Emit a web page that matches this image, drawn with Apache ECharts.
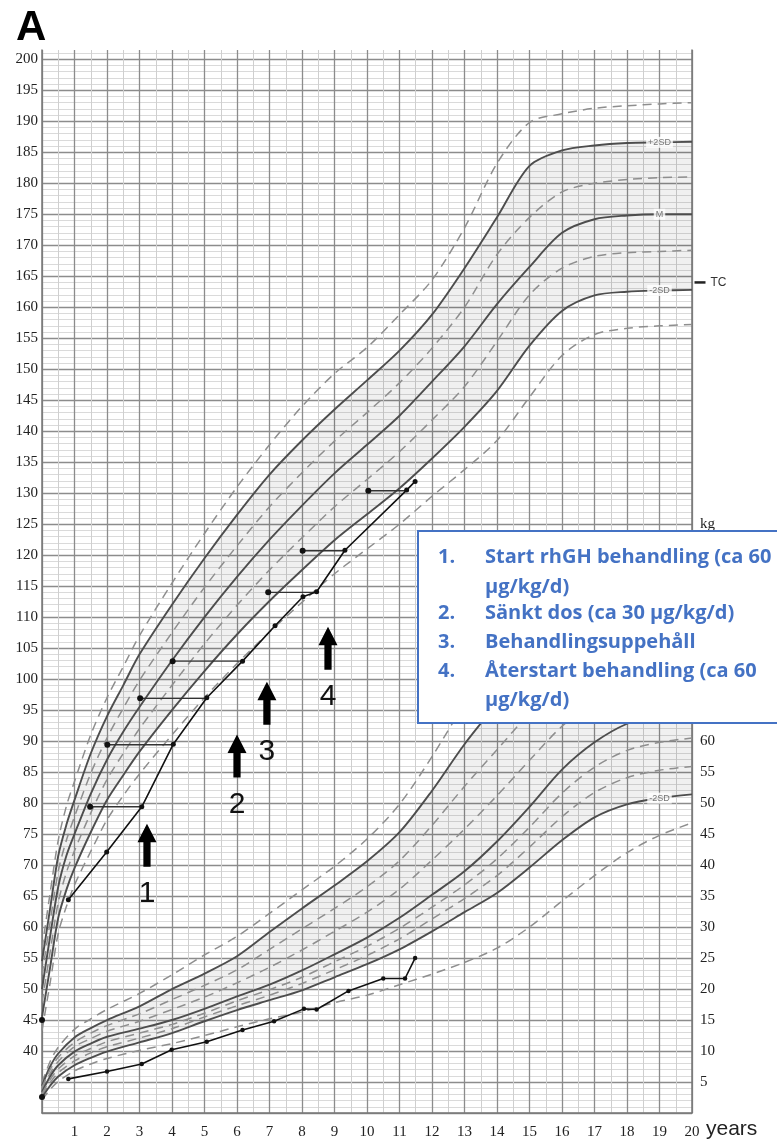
<!DOCTYPE html>
<html><head><meta charset="utf-8">
<script src="https://cdn.jsdelivr.net/npm/echarts@6/dist/echarts.min.js"></script>
<style>html,body{margin:0;padding:0;background:#fff}#c{width:777px;height:1145px}</style>
</head><body><div id="c"></div>
<script>
// ---------- Height reference curves (cm) ----------
const ageH = [0, 0.25, 0.5, 0.75, 1, 1.5, 2, 2.5, 3, 4, 5, 6, 7, 8, 9, 10, 11, 12, 13, 14, 15, 16, 17, 18, 19, 20];
const hP3 = [56.5, 65.5, 74, 79.5, 83.5, 91, 97, 102, 107, 115.5, 123.5, 131, 137.8, 144, 149.3, 153.5, 158.8, 164.4, 172.8, 183.2, 189.8, 191.2, 192.1, 192.5, 192.8, 193];
const hP2 = [54.5, 63, 71.5, 76.5, 80.5, 88, 94, 99, 104, 112, 119.5, 126.5, 133, 138.5, 143.5, 148.2, 153, 158.8, 166.3, 174.5, 182.8, 185.3, 186.1, 186.5, 186.6, 186.7];
const hP1 = [52.3, 60.8, 69, 74, 77.8, 84.8, 90.5, 95.3, 99.8, 107.5, 114.8, 121.5, 127.8, 133.3, 138.4, 143, 147.8, 153.4, 160, 168.5, 174.5, 178.6, 180, 180.6, 180.9, 181];
const hM  = [50, 58.5, 66.5, 71.5, 75, 81.5, 87, 91.5, 95.5, 103, 110, 116.5, 122.5, 128, 133.2, 137.8, 142.5, 148, 153.7, 160.5, 166.5, 172, 174.2, 174.8, 175, 175];
const hM1 = [47.8, 56, 64, 68.8, 72.3, 78.4, 83.8, 88, 92, 99, 105.7, 111.9, 117.6, 122.8, 127.8, 132.2, 136.7, 141.8, 147.2, 154.5, 162, 166.3, 168.2, 168.8, 169, 169.2];
const hM2 = [45.5, 53.5, 61.5, 66, 69.5, 75.3, 80.5, 84.5, 88.3, 95, 101.3, 107.2, 112.6, 117.6, 122.4, 126.6, 130.8, 135.6, 140.7, 146.5, 153.8, 159.4, 161.9, 162.5, 162.7, 162.8];
const hM3 = [43.3, 51, 59, 63.3, 66.8, 72.2, 77.3, 81.2, 84.7, 91, 97, 102.5, 107.6, 112.4, 117, 121, 125, 129.5, 133.8, 138.5, 145.5, 152.2, 155.6, 156.6, 157, 157.2];

// ---------- Weight reference curves (kg) ----------
const ageW = [0, 0.25, 0.5, 1, 1.5, 2, 3, 4, 5, 6, 7, 8, 9, 10, 11, 12, 13, 14, 15, 16, 17, 18, 19, 20];
const wP3 = [4.9, 8.3, 10.6, 13.5, 15.2, 16.7, 19.3, 22.3, 25.5, 28.5, 32.2, 36.0, 39.8, 44.2, 49.8, 57.5, 66, 74, 80, 85, 88, 90, 91, 92];
const wP2 = [4.4, 7.5, 9.6, 12.2, 13.7, 15.0, 17.2, 20.0, 22.5, 25.3, 29.2, 33.0, 36.7, 40.6, 45.3, 52.0, 59.5, 66.0, 72.0, 76.5, 79.5, 81.5, 82.5, 83.0];
const wU2 = [4.1, 7.0, 9.0, 11.4, 12.9, 14.1, 16.0, 18.3, 20.6, 23.1, 26.4, 29.7, 33.0, 36.5, 40.7, 46.4, 52.7, 58.6, 64.5, 69.5, 72.9, 75.3, 76.4, 77.0];
const wU1 = [3.7, 6.4, 8.3, 10.7, 12.0, 13.2, 14.8, 16.7, 18.7, 21.0, 23.5, 26.3, 29.3, 32.4, 36.1, 40.8, 45.8, 51.2, 56.9, 62.4, 66.4, 69.0, 70.4, 71.0];
const wM  = [3.4, 5.9, 7.7, 9.9, 11.2, 12.3, 13.6, 15.0, 16.8, 18.8, 20.7, 23.0, 25.6, 28.3, 31.5, 35.2, 39.0, 43.8, 49.4, 55.4, 59.8, 62.8, 64.3, 65.0];
const wL1 = [3.1, 5.4, 7.1, 9.2, 10.4, 11.5, 12.9, 14.3, 16.1, 18.1, 19.9, 21.9, 24.4, 26.9, 29.8, 33.2, 36.8, 41.0, 46.1, 51.6, 55.8, 58.5, 59.8, 60.5];
const wL2 = [2.8, 4.9, 6.5, 8.4, 9.7, 10.7, 12.1, 13.6, 15.5, 17.3, 19.0, 20.9, 23.1, 25.4, 28.1, 31.3, 34.6, 38.3, 42.9, 47.8, 51.7, 54.1, 55.3, 55.9];
const wM2 = [2.5, 4.4, 5.9, 7.7, 8.9, 9.9, 11.4, 12.9, 14.8, 16.6, 18.2, 19.8, 21.9, 24.0, 26.4, 29.3, 32.4, 35.5, 39.6, 44.0, 47.7, 49.8, 50.8, 51.4];
const wM3 = [2.1, 3.8, 5.1, 6.8, 7.9, 8.8, 10.1, 11.2, 12.5, 13.9, 15.2, 16.3, 17.8, 19.0, 20.7, 22.4, 24.3, 26.6, 30.0, 34.2, 38.3, 42.0, 44.8, 46.8];

// ---------- Patient ----------
const birthLength = 45;
const birthWeight = 2.6;
const patHAges = [0.81, 1.99, 3.07, 4.04, 5.07, 6.17, 7.17, 8.03, 8.45, 9.32, 11.22, 11.48];
const patH     = [64.4, 72.1, 79.4, 89.5, 97.0, 102.9, 108.6, 113.3, 114.1, 120.8, 130.5, 131.9];
const patWAges = [0.81, 2.0, 3.07, 3.99, 5.07, 6.17, 7.14, 8.06, 8.45, 9.43, 10.5, 11.17, 11.48];
const patW     = [5.5, 6.7, 7.9, 10.2, 11.5, 13.4, 14.8, 16.8, 16.7, 19.7, 21.7, 21.7, 25.0];
// bone age (left dot) vs chronological age at same height
const boneAges  = [1.48, 2.01, 3.02, 4.02, 6.96, 8.02, 10.04];
const chronAges = [3.07, 4.04, 5.07, 6.17, 8.45, 9.32, 11.22];
const boneH     = [79.4, 89.4, 96.9, 102.9, 114.0, 120.7, 130.4];
const targetHeight = 164;

// ---------- Annotations ----------
const arrowAges = [3.23, 6.0, 6.92, 8.8];
const arrowCm   = [73.2, 87.6, 96.1, 105.0];
const arrowTexts = ['1', '2', '3', '4'];
const xTicks = [1,2,3,4,5,6,7,8,9,10,11,12,13,14,15,16,17,18,19,20];
const legendLines = [
  ['1.', 'Start rhGH behandling (ca 60'],
  ['', 'µg/kg/d)'],
  ['2.', 'Sänkt dos (ca 30 µg/kg/d)'],
  ['3.', 'Behandlingsuppehåll'],
  ['4.', 'Återstart behandling (ca 60'],
  ['', 'µg/kg/d)']
];

// ---------- build ----------
const pairs = (xs, ys) => xs.map((x, i) => [x, ys[i]]);
const SM = 0.3;
const solidStyle = {color: '#4d4d4d', width: 1.9};
const dashStyle = {color: '#8e8e8e', width: 1.5, type: [9, 6]};
function refLine(xs, ys, dashed, yi) {
  return {type: 'line', yAxisIndex: yi, data: pairs(xs, ys), smooth: SM,
    symbol: 'none', silent: true, lineStyle: dashed ? dashStyle : solidStyle, z: 3};
}
// shaded band between two curves: value dimension first so that stacking applies to y
function band(xs, lo, hi, yi, st) {
  const common = {type: 'line', yAxisIndex: yi, stack: st, smooth: SM, symbol: 'none', silent: true,
    dimensions: ['v', 'age'], encode: {x: 'age', y: 'v'}, lineStyle: {opacity: 0}, z: 1};
  return [
    Object.assign({}, common, {data: lo.map((v, i) => [v, xs[i]])}),
    Object.assign({}, common, {data: hi.map((v, i) => [+(v - lo[i]).toFixed(2), xs[i]]),
      areaStyle: {color: 'rgba(0,0,0,0.085)'}})
  ];
}

const series = [];
series.push(...band(ageH, hM2, hP2, 0, 'hb'));
series.push(...band(ageW, wM2, wP2, 1, 'wb'));
[[hP3, 1], [hP2, 0], [hP1, 1], [hM, 0], [hM1, 1], [hM2, 0], [hM3, 1]].forEach(([d, dash]) => series.push(refLine(ageH, d, dash, 0)));
[[wP3, 1], [wP2, 0], [wU2, 1], [wU1, 1], [wM, 0], [wL1, 1], [wL2, 1], [wM2, 0], [wM3, 1]].forEach(([d, dash]) => series.push(refLine(ageW, d, dash, 1)));

// curve end labels
const lblStyle = {show: true, position: 'inside', formatter: p => p.name, backgroundColor: '#fff',
  padding: [1, 2], fontSize: 9, color: '#555', fontFamily: 'Liberation Sans'};
series.push({type: 'scatter', yAxisIndex: 0, symbolSize: 1, itemStyle: {color: 'transparent'}, silent: true, z: 6,
  label: lblStyle, data: [
    {name: '+2SD', value: [ageH[24], hP2[24]]},
    {name: 'M', value: [ageH[24], hM[24]]},
    {name: '-2SD', value: [ageH[24], hM2[24]]}
  ]});
series.push({type: 'scatter', yAxisIndex: 1, symbolSize: 1, itemStyle: {color: 'transparent'}, silent: true, z: 6,
  label: lblStyle, data: [{name: '-2SD', value: [ageW[22], wM2[22]]}]});

// target height marker
series.push({type: 'scatter', yAxisIndex: 0, clip: false, symbol: 'rect', symbolSize: [11, 2.5], symbolOffset: [8, 0],
  itemStyle: {color: '#222', opacity: 1}, silent: true, z: 6, data: [[20, targetHeight]],
  label: {show: true, formatter: 'TC', position: 'right', distance: 5, fontSize: 12, color: '#333', fontFamily: 'Liberation Sans'}});

// patient height
series.push({type: 'line', yAxisIndex: 0, data: pairs(patHAges, patH), symbol: 'circle', symbolSize: 5,
  itemStyle: {color: '#111'}, lineStyle: {color: '#111', width: 1.6}, z: 8, silent: true});
boneAges.forEach((b, i) => {
  series.push({type: 'line', yAxisIndex: 0, data: [[b, boneH[i]], [chronAges[i], boneH[i]]], symbol: 'circle',
    symbolSize: (v, p) => p.dataIndex === 0 ? 6 : 0, itemStyle: {color: '#111'},
    lineStyle: {color: '#333', width: 1.4}, z: 7, silent: true});
});
// patient weight
series.push({type: 'line', yAxisIndex: 1, data: pairs(patWAges, patW), symbol: 'circle', symbolSize: 4.5,
  itemStyle: {color: '#111'}, lineStyle: {color: '#111', width: 1.6}, z: 8, silent: true});
// birth points
series.push({type: 'scatter', yAxisIndex: 0, clip: false, data: [[0, birthLength]], symbolSize: 6, itemStyle: {color: '#111', opacity: 1}, z: 8, silent: true});
series.push({type: 'scatter', yAxisIndex: 1, clip: false, data: [[0, birthWeight]], symbolSize: 6, itemStyle: {color: '#111', opacity: 1}, z: 8, silent: true});

// arrows
series.push({type: 'scatter', yAxisIndex: 0, silent: true, z: 9,
  symbol: 'path://M10,0 L20,19 L13.8,19 L13.8,44 L6.2,44 L6.2,19 L0,19 Z', symbolSize: [19, 43],
  itemStyle: {color: '#000', opacity: 1},
  label: {show: true, position: 'bottom', distance: 12, formatter: p => p.name, fontSize: 30,
    color: '#111', fontFamily: 'Liberation Sans'},
  data: arrowAges.map((a, i) => ({name: arrowTexts[i], value: [a, arrowCm[i]]}))});

// legend box (own layer, above axes and series)
const boxChildren = [{type: 'rect', zlevel: 2, z: 100, shape: {x: 0, y: 0, width: 380, height: 192},
  style: {fill: '#fff', stroke: '#4472C4', lineWidth: 2}}];
const LF = 'bold 20px "Open Sans", "Noto Sans", sans-serif';
legendLines.forEach((l, i) => {
  const yy = [26, 56, 82, 111, 140, 169][i];
  if (l[0]) boxChildren.push({type: 'text', zlevel: 2, z: 101, x: 20, y: yy, style: {text: l[0], font: LF, fill: '#4472C4', verticalAlign: 'middle'}});
  boxChildren.push({type: 'text', zlevel: 2, z: 101, x: 67, y: yy, style: {text: l[1], font: LF, fill: '#4472C4', verticalAlign: 'middle'}});
});

const serif = 'Liberation Serif';
const option = {
  animation: false,
  backgroundColor: '#fff',
  title: {text: 'A', left: 11, top: 2, textStyle: {fontSize: 42, fontWeight: 'bold', color: '#000', fontFamily: 'Liberation Sans'}},
  grid: {left: 42, right: 85, top: 50, bottom: 32, containLabel: false},
  xAxis: {type: 'value', min: 0, max: 20, interval: 1,
    name: 'years', nameLocation: 'end', nameGap: 14,
    nameTextStyle: {fontSize: 21, color: '#222', fontFamily: 'Liberation Sans', verticalAlign: 'top', padding: [6, 0, 0, 0]},
    axisLine: {lineStyle: {color: '#777', width: 1.5}}, axisTick: {show: false},
    axisLabel: {formatter: v => xTicks.includes(v) ? String(v) : '', fontFamily: serif, fontSize: 15, color: '#222', margin: 12},
    splitLine: {show: true, lineStyle: {color: '#8c8c8c', width: 1.3}},
    minorTick: {show: false, splitNumber: 2},
    minorSplitLine: {show: true, lineStyle: {color: '#cfcfcf', width: 1}}},
  yAxis: [
    {type: 'value', min: 30, max: 201.5, interval: 5, position: 'left',
     axisLine: {show: true, lineStyle: {color: '#777', width: 1.5}}, axisTick: {show: false},
     axisLabel: {formatter: v => (v >= 40 && v <= 200) ? String(v) : '', fontFamily: serif, fontSize: 15, color: '#222', margin: 4},
     splitLine: {show: true, showMaxLine: false, lineStyle: {color: '#8c8c8c', width: 1.3}},
     minorTick: {show: false, splitNumber: 5},
     minorSplitLine: {show: true, lineStyle: {color: '#dadada', width: 1}}},
    {type: 'value', min: 0, max: 171.5, interval: 5, position: 'right',
     axisLine: {show: true, lineStyle: {color: '#777', width: 1.5}}, axisTick: {show: false},
     axisLabel: {formatter: v => v === 95 ? 'kg' : ((v >= 5 && v <= 90) ? String(v) : ''), fontFamily: serif, fontSize: 15, color: '#222', margin: 8},
     splitLine: {show: false}}
  ],
  graphic: [{type: 'group', left: 417, top: 530, zlevel: 2, z: 100, children: boxChildren}],
  series: series
};
const chart = echarts.init(document.getElementById('c'));
chart.setOption(option);
</script></body></html>
